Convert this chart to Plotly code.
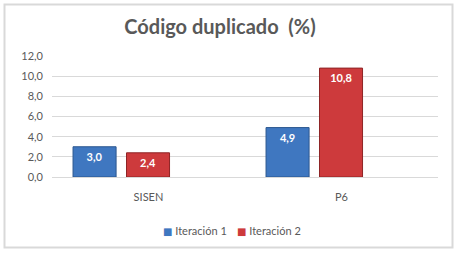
import plotly.graph_objects as go

categories = ["SISEN", "P6"]
iter1 = [3.0, 4.9]
iter2 = [2.4, 10.8]
series_names = ["Iteración 1", "Iteración 2"]
series_colors = ["#3F77C0", "#CD3A3C"]

W, H = 459, 255
ML, MR, MT, MB = 52, 21, 56, 78
PW = W - ML - MR
PH = H - MT - MB

FONT = "Lato"
GREY = "#595959"


def px_x(p):
    return (p - ML) / PW


def px_y(p):
    return (H - MB - p) / PH


fig = go.Figure()
for vals, name, col, line_col, off in [
    (iter1, series_names[0], series_colors[0], "#2B568F", -0.391),
    (iter2, series_names[1], series_colors[1], "#8E2425", -0.114),
]:
    fig.add_trace(go.Bar(
        x=categories, y=vals, name=name,
        width=0.223, offset=off,
        marker=dict(color=col, line=dict(color=line_col, width=1)),
        texttemplate="%{y:.1f}", textposition="inside", insidetextanchor="end",
        textfont=dict(color="white", size=11, family=FONT, weight="bold"),
        cliponaxis=False, showlegend=False,
    ))

# legend drawn as text (square glyph + series name)
legend_x = [161, 235]
for name, col, lx in zip(series_names, series_colors, legend_x):
    fig.add_annotation(
        xref="paper", yref="paper", x=px_x(lx), y=px_y(230),
        xanchor="left", yanchor="middle", showarrow=False,
        text=f"<span style='color:{col};font-family:DejaVu Sans;font-size:10px'>■</span> {name}",
        font=dict(size=11, color=GREY, family=FONT),
    )

fig.add_shape(type="rect", xref="paper", yref="paper",
              x0=px_x(4.5), x1=px_x(452.5), y0=px_y(247.5), y1=px_y(4.5),
              line=dict(color="#D9D9D9", width=2), fillcolor="rgba(0,0,0,0)", layer="below")

fig.update_layout(
    width=W, height=H,
    margin=dict(l=ML, r=MR, t=MT, b=MB),
    paper_bgcolor="white", plot_bgcolor="white",
    separators=",.",
    font=dict(family=FONT, color=GREY, size=11),
    title=dict(text="<b>Código duplicado  (%)</b>", font=dict(size=20, color=GREY, family=FONT),
               x=220 / W, xref="container", xanchor="center",
               y=1 - 27 / H, yref="container", yanchor="middle"),
    barmode="group",
    showlegend=False,
    xaxis=dict(showgrid=False, showline=True, linecolor="#D9D9D9", linewidth=1,
               ticks="", tickfont=dict(size=11, color=GREY), ticklabelstandoff=10),
    yaxis=dict(range=[0, 12], dtick=2, tickformat=".1f", showgrid=True, gridcolor="#D9D9D9",
               gridwidth=1, zeroline=False, showline=False, ticks="",
               tickfont=dict(size=11, color=GREY), ticklabelstandoff=8),
)

fig.write_html("out.html")
